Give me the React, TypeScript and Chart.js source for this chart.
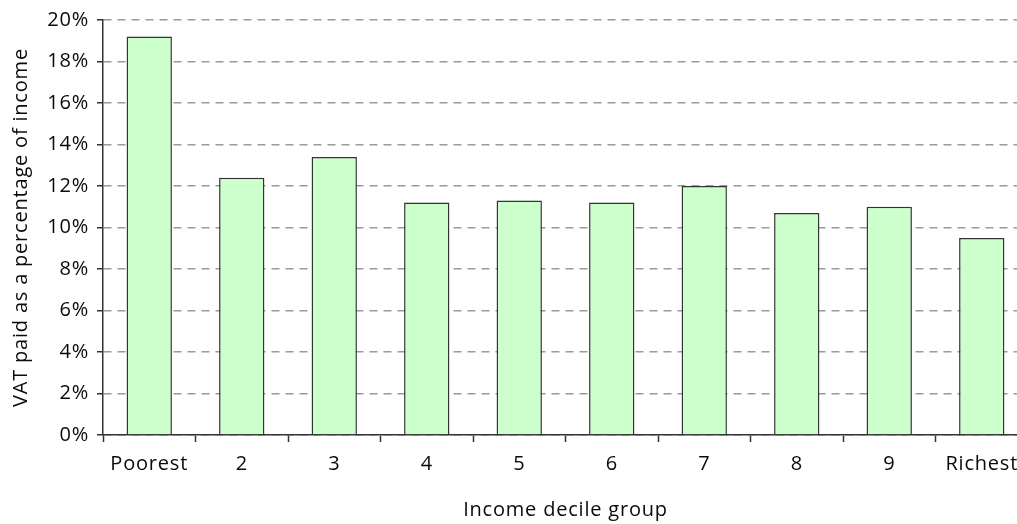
import React, { useEffect, useRef } from "react";
import { Chart, registerables } from "chart.js";

Chart.register(...registerables);

const categories = ["Poorest", "2", "3", "4", "5", "6", "7", "8", "9", "Richest"];
const vatShare = [19.2, 12.4, 13.4, 11.2, 11.3, 11.2, 12.0, 10.7, 11.0, 9.5];
const yTitle = "VAT paid as a percentage of income";
const xTitle = "Income decile group";

const FONT = "'Open Sans', 'DejaVu Sans', sans-serif";

const spacingPlugin = {
  id: "letterSpacing",
  beforeUpdate(chart: any) {
    chart.ctx.letterSpacing = "0.8px";
  },
  beforeDraw(chart: any) {
    chart.ctx.letterSpacing = "0.8px";
  },
};

export default function App() {
  const ref = useRef<HTMLCanvasElement | null>(null);
  useEffect(() => {
    if (!ref.current) return;
    const chart = new Chart(ref.current, {
      type: "bar",
      data: {
        labels: categories,
        datasets: [
          {
            data: vatShare,
            backgroundColor: "#ccffcc",
            borderColor: "#333333",
            borderWidth: 1.5,
            categoryPercentage: 1,
            barPercentage: 0.49,
          },
        ],
      },
      plugins: [spacingPlugin],
      options: {
        animation: false,
        responsive: false,
        devicePixelRatio: 1,
        layout: { padding: { top: 20, right: 12, bottom: 0, left: 0 } },
        plugins: {
          legend: { display: false },
          tooltip: { enabled: false },
        },
        scales: {
          x: {
            offset: true,
            grid: {
              display: true,
              offset: true,
              drawOnChartArea: false,
              drawTicks: true,
              tickLength: 7,
              tickColor: "#333333",
              tickWidth: 1.5,
              color: "#333333",
            },
            border: { display: true, color: "#333333", width: 1.5 },
            ticks: {
              color: "#0a0a0a",
              font: { family: FONT, size: 20 },
              padding: 10,
              maxRotation: 0,
              autoSkip: false,
            },
            title: {
              display: true,
              text: xTitle,
              color: "#0a0a0a",
              font: { family: FONT, size: 20 },
              padding: { top: 0, bottom: 2 },
            },
            afterFit(scale: any) {
              scale.height = 89;
            },
          },
          y: {
            min: 0,
            max: 20,
            grid: {
              color: "#9a9a9a",
              lineWidth: 1.5,
              tickColor: "#333333",
              tickWidth: 1.5,
              tickLength: 6,
              tickBorderDash: [],
            },
            border: { display: true, color: "#333333", width: 1.5, dash: [8, 6] },
            ticks: {
              stepSize: 2,
              color: "#0a0a0a",
              font: { family: FONT, size: 20 },
              padding: 8,
              callback: (v: any) => v + "%",
            },
            title: {
              display: true,
              text: yTitle,
              color: "#0a0a0a",
              font: { family: FONT, size: 20 },
              padding: { top: 9, bottom: 0 },
            },
            afterFit(scale: any) {
              scale.width = 103;
            },
          },
        },
      } as any,
    });
    return () => chart.destroy();
  }, []);
  return (
    <div
      style={{
        position: "absolute",
        left: 0,
        top: 0,
        width: 1017,
        height: 524,
        overflow: "hidden",
        background: "#ffffff",
      }}
    >
      <canvas ref={ref} width={1040} height={524} style={{ display: "block" }} />
    </div>
  );
}
